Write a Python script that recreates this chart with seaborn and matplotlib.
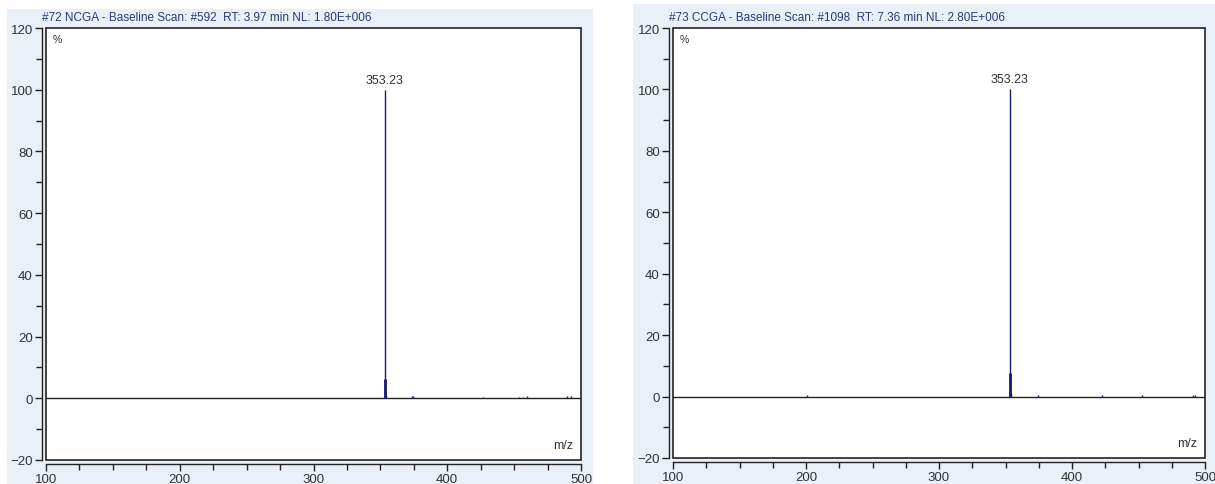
"""
Two mass spectra (NCGA / CCGA) drawn as stick plots.
"""

import matplotlib
matplotlib.use("Agg")
import matplotlib.pyplot as plt
from matplotlib.patches import Rectangle
from matplotlib.ticker import MultipleLocator
import numpy as np
import pandas as pd
import seaborn as sns

# ── data ──
ncga_mz = [353.23, 353.60, 354.20, 373.5, 374.6, 426.7, 454.0, 456.5, 459.6, 489.5, 492.5]
ncga_int = [100.0, 6.3, 1.0, 0.8, 0.7, 0.5, 0.5, 0.5, 0.6, 0.6, 0.6]
ccga_mz = [353.23, 353.60, 354.20, 200.7, 374.4, 422.6, 453.0, 491.0, 492.5]
ccga_int = [100.0, 7.8, 1.2, 0.5, 0.5, 0.5, 0.5, 0.6, 0.6]

titles = [
    "#72 NCGA - Baseline Scan: #592  RT: 3.97 min NL: 1.80E+006",
    "#73 CCGA - Baseline Scan: #1098  RT: 7.36 min NL: 2.80E+006",
]
peak_label = "353.23"
xlim = (100, 500)
ylim = (-20, 120)

sns.set_theme(style="white")
plt.rcParams["font.family"] = ["Liberation Sans", "DejaVu Sans"]

W, H = 1215, 485
fig = plt.figure(figsize=(W / 100, H / 100), dpi=100)
fig.patch.set_facecolor("white")

BG = "#e9f0f8"
PEAK = "#1c1c6e"
TXT = "#333333"
TITLE = "#2a3a78"

# panel backgrounds (pixel boxes: x0, y0_top, x1, y1_bottom)
for x0, y0, x1, y1 in [(7, 10, 593, 485), (633, 5, 1215, 485)]:
    fig.patches.append(Rectangle((x0 / W, 1 - y1 / H), (x1 - x0) / W, (y1 - y0) / H,
                                 transform=fig.transFigure, facecolor=BG,
                                 edgecolor="none", zorder=-10))

# axes boxes in pixels (left, top, right, bottom)
boxes = [(46, 29, 581, 461), (673, 29, 1205, 459)]
spectra = [(ncga_mz, ncga_int), (ccga_mz, ccga_int)]

for (l, t, r, b), (mz, inten), title in zip(boxes, spectra, titles):
    ax = fig.add_axes([l / W, 1 - b / H, (r - l) / W, (b - t) / H])
    ax.set_facecolor("white")
    df = pd.DataFrame({"mz": mz, "intensity": inten})

    # sticks; first is the base peak, second a thicker shoulder
    ax.vlines(df["mz"], 0, df["intensity"], color=PEAK, lw=1.0, zorder=3)
    ax.vlines(df["mz"].iloc[1], 0, df["intensity"].iloc[1], color=PEAK, lw=2.0, zorder=3)
    ax.axhline(0, color="#222222", lw=1.0, zorder=2)

    ax.set_xlim(*xlim)
    ax.set_ylim(*ylim)
    ax.xaxis.set_major_locator(MultipleLocator(100))
    ax.xaxis.set_minor_locator(MultipleLocator(25))
    ax.yaxis.set_major_locator(MultipleLocator(20))
    ax.yaxis.set_minor_locator(MultipleLocator(10))
    ax.tick_params(which="both", direction="out", colors="#222222",
                   labelcolor=TXT, labelsize=9.5, bottom=True, left=True)
    ax.tick_params(which="major", length=5, width=1, pad=1.5)
    ax.tick_params(which="minor", length=4, width=1)

    # axis lines sit a few pixels outside the frame
    for side in ["top", "right"]:
        ax.spines[side].set_visible(False)
    for side in ["left", "bottom"]:
        ax.spines[side].set_position(("outward", 3))
        ax.spines[side].set_color("#222222")
        ax.spines[side].set_linewidth(1.0)
    ax.add_patch(Rectangle((0, 0), 1, 1, transform=ax.transAxes, fill=False,
                           edgecolor="#222222", lw=1.2, clip_on=False, zorder=4))

    top = df["intensity"].max()
    ax.annotate(peak_label, (df["mz"].iloc[0], top), xytext=(0, 3),
                textcoords="offset points", ha="center", va="bottom",
                fontsize=9, color=TXT)
    ax.text(0.012, 0.985, "%", transform=ax.transAxes, ha="left", va="top",
            fontsize=7.5, color=TXT)
    ax.text(0.985, 0.02, "m/z", transform=ax.transAxes, ha="right", va="bottom",
            fontsize=9, color=TXT)
    ax.text(-0.008, 1.012, title, transform=ax.transAxes, ha="left", va="bottom",
            fontsize=8.5, color=TITLE)

fig.savefig("out.png", dpi=100)
